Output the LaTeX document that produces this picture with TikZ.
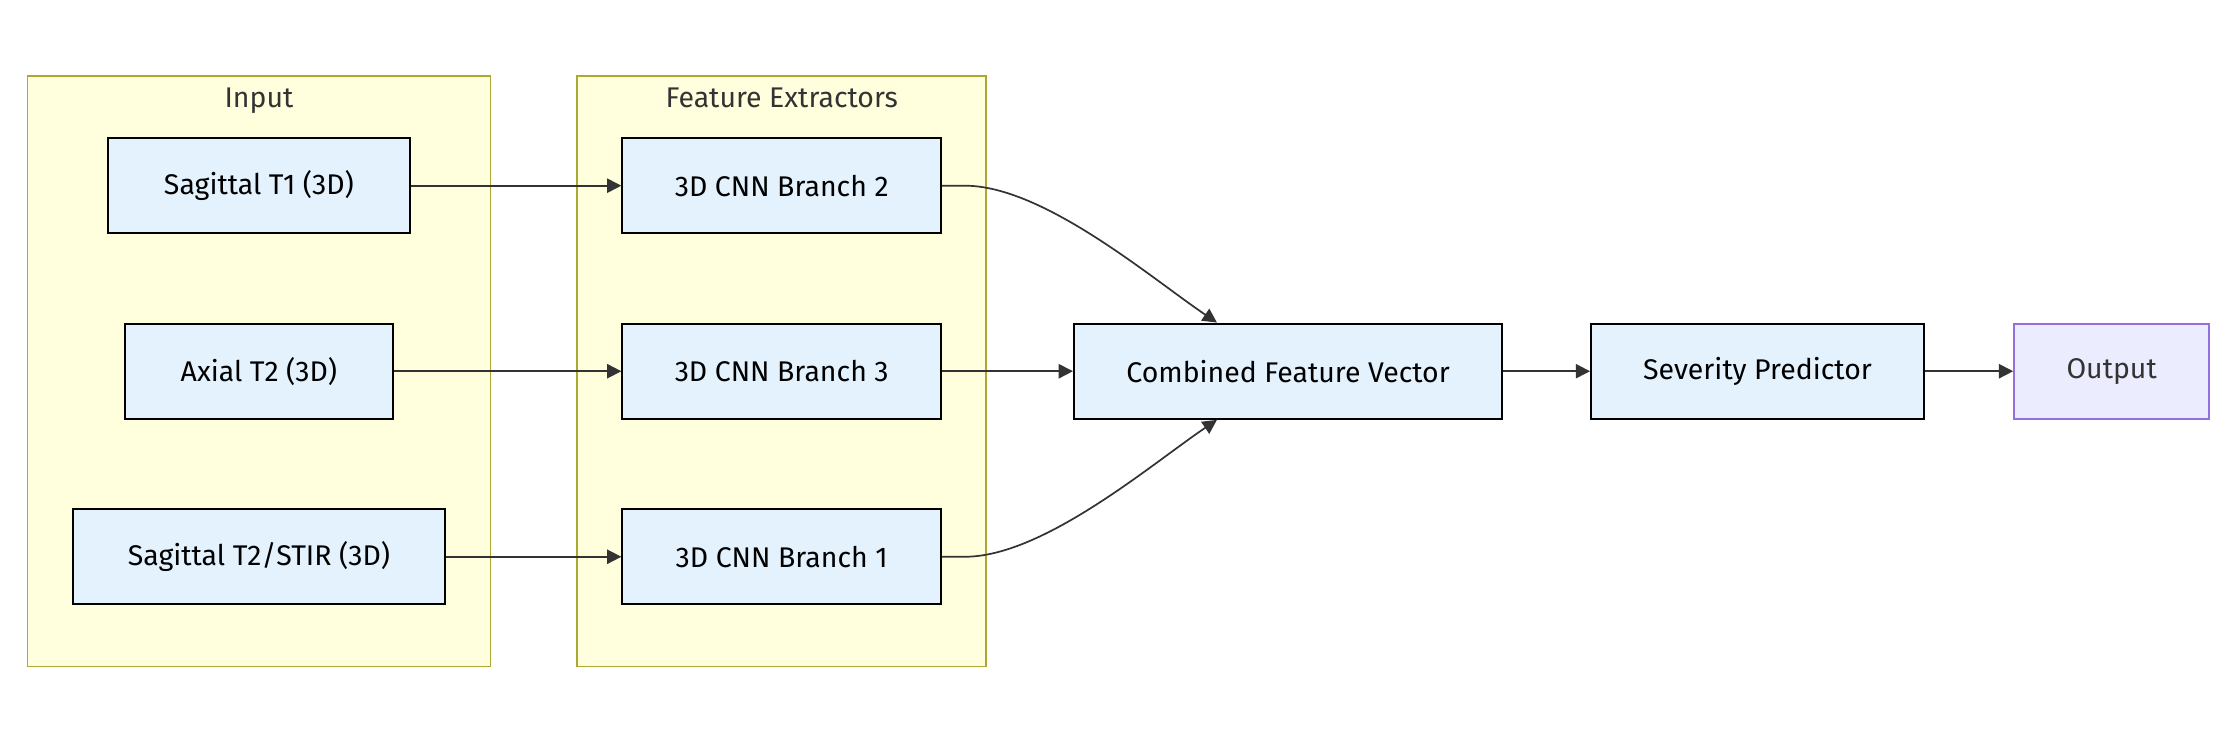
\documentclass[tikz,border=0pt]{standalone}
\usepackage{fontspec}
\setmainfont{Fira Sans}
\usetikzlibrary{positioning,fit,backgrounds,arrows.meta}

\definecolor{boxfill}{HTML}{E3F2FD}
\definecolor{grpfill}{HTML}{FFFFDE}
\definecolor{grpline}{HTML}{AAAA33}
\definecolor{outfill}{HTML}{ECECFF}
\definecolor{outline}{HTML}{9370DB}
\definecolor{lineclr}{HTML}{333333}

\begin{document}
\begin{tikzpicture}[node distance=31pt, >={Triangle[length=5pt,width=5pt]},
    font=\fontsize{10}{12}\selectfont,
    block/.style={draw=black, line width=0.7pt, fill=boxfill, minimum height=33.5pt, inner sep=0pt},
    group/.style={draw=grpline, fill=grpfill, line width=0.6pt, inner xsep=15.5pt, inner ysep=21.5pt},
    grplabel/.style={text=lineclr, text height=1.6ex, text depth=0.5ex},
    flow/.style={->, draw=lineclr, line width=0.6pt}]
            \useasboundingbox (0,0) rectangle (784pt,-260pt);

            \node (sagT1) [block, minimum width=106pt] at (91pt,-65.25pt) {Sagittal T1 (3D)};
            \node (axT2) [block, minimum width=94pt, below=of sagT1] {Axial T2 (3D)};
            \node (sagT2) [block, minimum width=131pt, below=of axT2] {Sagittal T2/STIR (3D)};

            \node (cnn2) [block, minimum width=112pt, right=74pt of sagT1] {3D CNN Branch 2};
            \node (cnn3) [block, minimum width=112pt, below=of cnn2] {3D CNN Branch 3};
            \node (cnn1) [block, minimum width=112pt, below=of cnn3] {3D CNN Branch 1};

            \node (comb) [block, minimum width=150.5pt, right=46pt of cnn3] {Combined Feature Vector};
            \node (sev) [block, minimum width=117pt, right=30.5pt of comb] {Severity Predictor};
            \node (out) [block, minimum width=68.5pt, right=31pt of sev, draw=outline, fill=outfill, text=lineclr] {Output};

            \begin{scope}[on background layer]
                \node (inGrp) [group, fit=(sagT1)(axT2)(sagT2)] {};
                \node (featGrp) [group, fit=(cnn2)(cnn3)(cnn1)] {};
            \end{scope}
            \node (inLbl) [grplabel] at ([yshift=-8.5pt]inGrp.north) {Input};
            \node (featLbl) [grplabel] at ([yshift=-8.5pt]featGrp.north) {Feature Extractors};

            \draw[flow] (sagT1) -- (cnn2);
            \draw[flow] (axT2) -- (cnn3);
            \draw[flow] (sagT2) -- (cnn1);
            \draw[flow] (cnn2.east) -- ++(8pt,0) to[out=0, in=146, looseness=0.7] ([xshift=-25pt]comb.north);
            \draw[flow] (cnn3) -- (comb);
            \draw[flow] (cnn1.east) -- ++(8pt,0) to[out=0, in=-146, looseness=0.7] ([xshift=-25pt]comb.south);
            \draw[flow] (comb) -- (sev);
            \draw[flow] (sev) -- (out);
        \end{tikzpicture}
\end{document}
